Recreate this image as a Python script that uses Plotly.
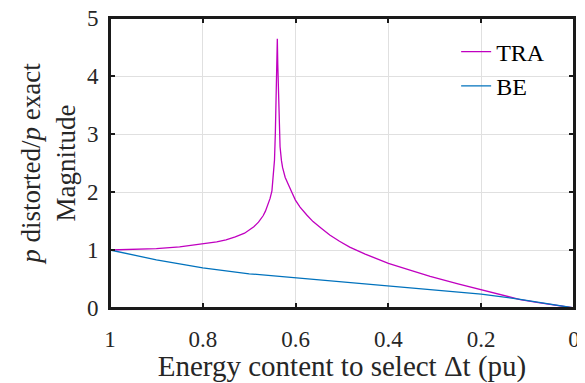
import plotly.graph_objects as go

# Energy content (pu) and magnitude ratio for TRA
tra_x = [1.00, 0.95, 0.90, 0.85, 0.80, 0.77, 0.75, 0.73, 0.71, 0.70, 0.69, 0.68, 0.67,
         0.665, 0.66, 0.655, 0.651, 0.648, 0.6455, 0.6437, 0.6425, 0.6416, 0.6405, 0.6394,
         0.6384, 0.6379, 0.6364, 0.635, 0.6335, 0.6305, 0.628, 0.6224, 0.6154, 0.6084,
         0.6004, 0.5904, 0.5754, 0.5624, 0.5454, 0.5264, 0.5054, 0.4834, 0.45, 0.425, 0.40,
         0.35, 0.31, 0.25, 0.20, 0.15, 0.116, 0.08, 0.04, 0.0]
tra_y = [1.000, 1.008, 1.025, 1.055, 1.10, 1.14, 1.175, 1.225, 1.29, 1.34, 1.40, 1.48, 1.59,
         1.67, 1.77, 1.89, 2.02, 2.25, 2.55, 3.00, 3.45, 4.00, 4.40, 4.64,
         4.20, 4.00, 3.35, 3.00, 2.78, 2.54, 2.42, 2.25, 2.11, 2.00,
         1.86, 1.74, 1.60, 1.49, 1.38, 1.26, 1.15, 1.05, 0.93, 0.85, 0.77,
         0.645, 0.545, 0.415, 0.315, 0.215, 0.145, 0.098, 0.048, 0.0]

# Energy content (pu) and magnitude ratio for BE
be_x = [1.0, 0.95, 0.90, 0.85, 0.80, 0.70, 0.60, 0.50, 0.40, 0.332, 0.20, 0.116, 0.05, 0.0]
be_y = [1.0, 0.91, 0.83, 0.76, 0.69, 0.59, 0.52, 0.45, 0.38, 0.335, 0.24, 0.15, 0.065, 0.0]

x_ticks = [1, 0.8, 0.6, 0.4, 0.2, 0]
x_tick_labels = ["1", "0.8", "0.6", "0.4", "0.2", "0"]
y_ticks = [0, 1, 2, 3, 4, 5]
x_range = [1, 0]
y_range = [0, 5]

FONT = "Liberation Serif"
TXT = "#262626"

fig = go.Figure()
fig.add_trace(go.Scatter(x=tra_x, y=tra_y, mode="lines", name="TRA",
                         line=dict(color="#c000c0", width=1.3)))
fig.add_trace(go.Scatter(x=be_x, y=be_y, mode="lines", name="BE", xaxis="x2", yaxis="y2",
                         line=dict(color="#0072bd", width=1.3)))

line_style = dict(showline=True, linecolor="#1a1a1a", linewidth=2,
                  ticks="inside", ticklen=5, tickcolor="#1a1a1a", tickwidth=2,
                  zeroline=False, automargin=False)

fig.update_layout(
    xaxis=dict(range=x_range, tickvals=x_ticks, ticktext=x_tick_labels,
               showgrid=True, gridcolor="#e0e0e0", gridwidth=1,
               tickfont=dict(family=FONT, size=23, color=TXT), ticklabelstandoff=9,
               title=dict(text="Energy content to select \u0394t (pu)",
                          font=dict(family=FONT, size=29, color=TXT), standoff=5),
               **line_style),
    yaxis=dict(range=y_range, tickvals=y_ticks,
               showgrid=True, gridcolor="#e0e0e0", gridwidth=1,
               tickfont=dict(family=FONT, size=23, color=TXT), ticklabelstandoff=5,
               ticklabeloverflow="allow",
               title=dict(text="<i>p</i> distorted/<i>p</i> exact<br>Magnitude",
                          font=dict(family=FONT, size=27, color=TXT), standoff=3),
               **line_style),
    xaxis2=dict(range=x_range, tickvals=x_ticks, overlaying="x", side="top", anchor="y2",
                showgrid=False, showticklabels=False, **line_style),
    yaxis2=dict(range=y_range, tickvals=y_ticks, overlaying="y", side="right", anchor="x2",
                showgrid=False, showticklabels=False, **line_style),
)

# box frame around the plotting area
fig.add_shape(type="rect", xref="paper", yref="paper", x0=0, y0=0, x1=1, y1=1,
              line=dict(color="#1a1a1a", width=2), fillcolor="rgba(0,0,0,0)", layer="above")

# page body has an 8px margin, so the figure is sized to fit the window
fig.update_layout(
    width=577, height=375, autosize=False,
    margin=dict(l=102, r=11, t=10, b=75),
    paper_bgcolor="white", plot_bgcolor="white",
    font=dict(family=FONT, size=23, color=TXT),
    showlegend=True,
    legend=dict(x=0.746, y=0.96, xanchor="left", yanchor="top",
                bgcolor="rgba(0,0,0,0)", font=dict(family=FONT, size=24, color="#000000"),
                tracegroupgap=0),
)

fig.write_html("out.html")
